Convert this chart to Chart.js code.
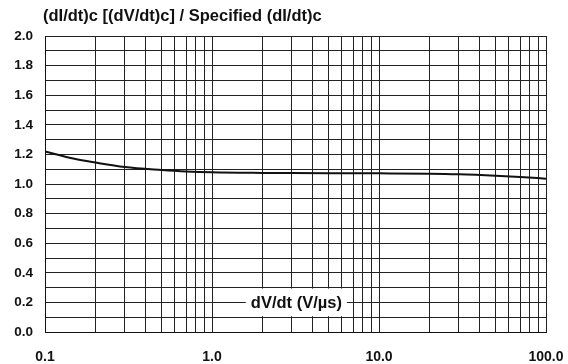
<!DOCTYPE html>
<html>
<head>
<meta charset="utf-8">
<script src="https://cdn.jsdelivr.net/npm/chart.js@4/dist/chart.umd.min.js"></script>
<style>
  html, body { margin: 0; padding: 0; background: #fff; }
  #wrap { width: 568px; height: 364px; position: relative; }
</style>
</head>
<body>
<div id="wrap"><canvas id="chart"></canvas></div>
<script>
// curve
const dvdt = [0.1, 0.15, 0.2, 0.3, 0.5, 0.7, 1, 2, 3, 5, 10, 20, 30, 50, 70, 100];
const ratio = [1.22, 1.17, 1.145, 1.115, 1.095, 1.085, 1.079, 1.075, 1.074, 1.073, 1.072, 1.07, 1.066, 1.056, 1.047, 1.036];

const xLabelTicks = [0.1, 1, 10, 100];
const yLabelTicks = [0, 0.2, 0.4, 0.6, 0.8, 1.0, 1.2, 1.4, 1.6, 1.8, 2.0];

const titleText = '(dI/dt)c [(dV/dt)c] / Specified (dI/dt)c';
const xAxisText = 'dV/dt (V/µs)';
const FAMILY = '"Liberation Sans", Arial, sans-serif';

// grid: 1..9 in every decade, and every 0.1 on y
const xGrid = [];
for (let d = 0.1; d < 100; d *= 10) {
    for (let m = 1; m < 10; m++) xGrid.push(Number((m * d).toPrecision(3)));
}
xGrid.push(100);
const yGrid = [];
for (let i = 0; i <= 20; i++) yGrid.push(Number((i / 10).toFixed(1)));

const isLabel = (list, v) => list.some(t => Math.abs(t - v) < 1e-9);

const overlay = {
    id: 'overlay',
    afterDraw(chart) {
        const ctx = chart.ctx;
        const xs = chart.scales.x, ys = chart.scales.y;
        ctx.save();
        ctx.font = 'bold 16.5px ' + FAMILY;
        ctx.fillStyle = '#111';
        ctx.textBaseline = 'alphabetic';
        ctx.textAlign = 'left';
        ctx.fillText(titleText, 43, 21);

        // axis name sitting on the 0.2 gridline in a white box
        ctx.font = 'bold 16.5px ' + FAMILY;
        const w = ctx.measureText(xAxisText).width;
        const cx = xs.getPixelForValue(3.2);
        const top = ys.getPixelForValue(0.3) + 1;
        const bot = ys.getPixelForValue(0.1) - 1;
        ctx.fillStyle = '#fff';
        ctx.fillRect(cx - w / 2 - 5, top, w + 10, bot - top);
        ctx.fillStyle = '#111';
        ctx.textAlign = 'center';
        ctx.textBaseline = 'middle';
        ctx.fillText(xAxisText, cx, ys.getPixelForValue(0.2) + 1);
        ctx.restore();
    }
};

new Chart(document.getElementById('chart'), {
    type: 'line',
    data: {
        datasets: [{
            data: dvdt.map((x, i) => ({ x: x, y: ratio[i] })),
            borderColor: '#111',
            borderWidth: 2,
            pointRadius: 0,
            cubicInterpolationMode: 'monotone',
            fill: false
        }]
    },
    options: {
        responsive: true,
        maintainAspectRatio: false,
        animation: false,
        layout: { padding: { left: 0, right: 22, top: 36, bottom: 0 } },
        plugins: {
            legend: { display: false },
            title: { display: false },
            tooltip: { enabled: false }
        },
        scales: {
            x: {
                type: 'logarithmic',
                min: 0.1,
                max: 100,
                afterBuildTicks: s => { s.ticks = xGrid.map(v => ({ value: v })); },
                afterFit: s => { s.height = 32; s.paddingLeft = 0; s.paddingRight = 0; },
                grid: { color: '#222', lineWidth: 1, drawTicks: false },
                border: { color: '#111', width: 1 },
                ticks: {
                    autoSkip: false,
                    maxRotation: 0,
                    padding: 17,
                    color: '#111',
                    font: { family: FAMILY, size: 14, weight: 'bold' },
                    callback: v => isLabel(xLabelTicks, v) ? v.toFixed(1) : ''
                }
            },
            y: {
                min: 0,
                max: 2,
                afterBuildTicks: s => { s.ticks = yGrid.map(v => ({ value: v })); },
                afterFit: s => { s.width = 45; s.paddingTop = 0; s.paddingBottom = 0; },
                grid: { color: '#222', lineWidth: 1, drawTicks: false },
                border: { color: '#111', width: 1 },
                ticks: {
                    autoSkip: false,
                    padding: 12,
                    color: '#111',
                    font: { family: FAMILY, size: 13.5, weight: 'bold' },
                    callback: v => isLabel(yLabelTicks, v) ? v.toFixed(1) : ''
                }
            }
        }
    },
    plugins: [overlay]
});
</script>
</body>
</html>
